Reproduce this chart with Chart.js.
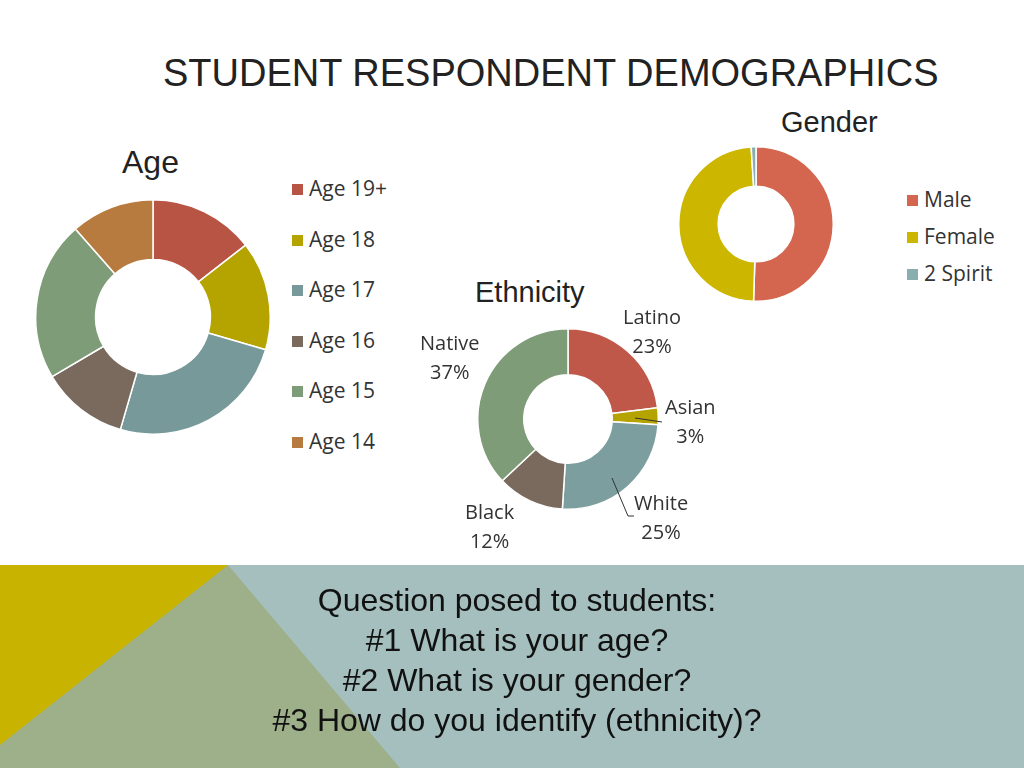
<!DOCTYPE html><html><head><meta charset="utf-8">
<script src="https://cdn.jsdelivr.net/npm/chart.js@4"></script>
<style>
body{margin:0;width:1024px;height:768px;position:relative;background:#fff;overflow:hidden;font-family:"Liberation Sans",Arial,sans-serif}
.abs{position:absolute}
canvas{position:absolute}
.t{font-family:"Liberation Sans Narrow","Liberation Sans",sans-serif;color:#222}
.lg{position:absolute;font-family:"Open Sans",sans-serif;font-size:21px;color:#333}
.lg div{position:absolute;white-space:nowrap}
.lg span{display:inline-block;width:11px;height:11px;margin-right:6px;vertical-align:1px}
.lab{position:absolute;font-family:"Open Sans",sans-serif;font-size:20px;color:#333;text-align:center;line-height:29px}
</style></head><body>
<svg class="abs" style="left:0;top:565px" width="1024" height="203">
<rect width="1024" height="203" fill="#A5BFBF"/>
<polygon points="0,0 228,0 400,203 0,203" fill="#9DB08A"/>
<polygon points="0,0 228,0 0,180" fill="#C8B400"/>
</svg>
<div class="abs t" style="left:163px;top:52px;font-size:38px">STUDENT RESPONDENT DEMOGRAPHICS</div>
<div class="abs t" style="left:122px;top:144px;font-size:32px">Age</div>
<div class="abs t" style="left:781px;top:106px;font-size:29px">Gender</div>
<div class="abs t" style="left:475px;top:276px;font-size:29px">Ethnicity</div>
<canvas id="age" style="left:35px;top:199px" width="236" height="236"></canvas>
<canvas id="gen" style="left:678px;top:146px" width="156" height="156"></canvas>
<canvas id="eth" style="left:477px;top:328px" width="182" height="182"></canvas>
<div class="lg" id="ageLg" style="left:292px;top:174px"></div>
<div class="lg" id="genLg" style="left:907px;top:185px"></div>
<div class="lab" style="left:420px;top:328px">Native<br>37%</div>
<div class="lab" style="left:623px;top:302px">Latino<br>23%</div>
<div class="lab" style="left:665px;top:392px">Asian<br>3%</div>
<div class="lab" style="left:634px;top:488px">White<br>25%</div>
<div class="lab" style="left:465px;top:497px">Black<br>12%</div>
<svg class="abs" style="left:0;top:0;pointer-events:none" width="1024" height="768">
<line x1="635" y1="418" x2="662" y2="422" stroke="#333"/>
<polyline points="612,478 628,516 634,516" fill="none" stroke="#333"/>
</svg>
<div class="abs" style="left:0;width:1034px;top:580px;text-align:center;font-family:'Liberation Sans',Arial,sans-serif;font-size:32px;line-height:40px;color:#111">Question posed to students:<br>#1 What is your age?<br>#2 What is your gender?<br>#3 How do you identify (ethnicity)?</div>
<script>
const ageLabels=["Age 19+","Age 18","Age 17","Age 16","Age 15","Age 14"];
const ageValues=[14.5,15,25,12,22,11.5];
const ageColors=["#B85444","#B5A300","#779999","#7A6A5E","#7E9C78","#B77B40"];
const genLabels=["Male","Female","2 Spirit"];
const genValues=[50.5,48.5,1];
const genColors=["#D4654E","#CDB600","#8AAEAE"];
const ethLabels=["Latino","Asian","White","Black","Native"];
const ethValues=[23,3,25,12,37];
const ethColors=["#C0584A","#B5A300","#7D9E9E","#7A6A5E","#7E9C78"];
function mk(id,labels,data,colors,cut){
 new Chart(document.getElementById(id),{type:'doughnut',data:{labels,datasets:[{data,backgroundColor:colors,borderColor:'#fff',borderWidth:1.5}]},
 options:{responsive:false,animation:false,cutout:cut,plugins:{legend:{display:false},tooltip:{enabled:false}},layout:{padding:0}}});
}
mk('age',ageLabels,ageValues,ageColors,'49%');
mk('gen',genLabels,genValues,genColors,'49%');
mk('eth',ethLabels,ethValues,ethColors,'49%');
function lg(id,labels,colors,step){
 const el=document.getElementById(id);
 labels.forEach((l,i)=>{const d=document.createElement('div');d.style.top=(i*step)+'px';d.innerHTML='<span style="background:'+colors[i]+'"></span>'+l;el.appendChild(d);});
}
lg('ageLg',ageLabels,ageColors,50.6);
lg('genLg',genLabels,genColors,37);
</script></body></html>
